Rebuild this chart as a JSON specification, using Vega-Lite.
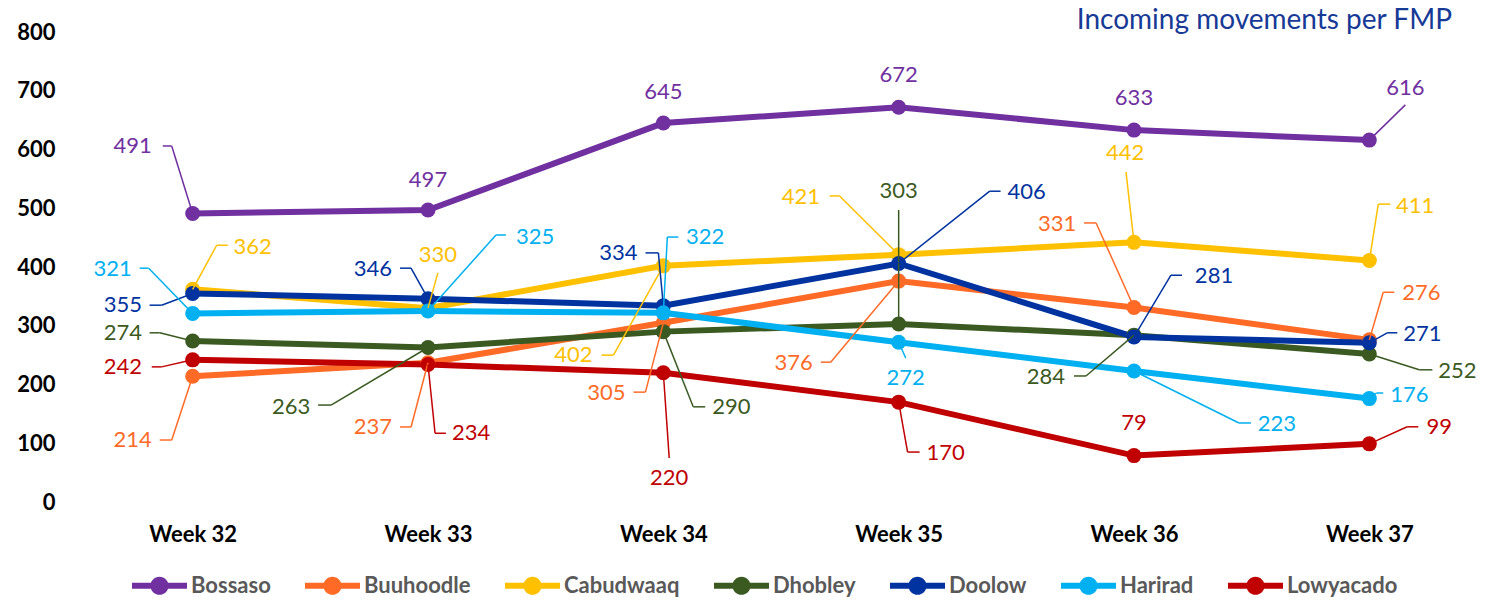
{
  "$schema": "https://vega.github.io/schema/vega-lite/v6.json",
  "autosize": {"type": "none"},
  "width": 1412,
  "height": 470,
  "padding": {"left": 75, "top": 32, "right": 0, "bottom": 103},
  "background": "white",
  "title": {"text": "Incoming movements per FMP", "anchor": "end", "dx": -35, "font": "Lato", "fontSize": 28, "fontWeight": "normal", "color": "#163a96", "baseline": "alphabetic", "offset": -36},
  "config": {"view": {"stroke": null}, "font": "Lato"},
  "data": {"values": [
    {"series": "Bossaso", "week": 32, "value": 491, "lx": 31.745, "ly": 606, "sx": 31.873, "sy": 606, "ex": 31.911, "ey": 606},
    {"series": "Bossaso", "week": 33, "value": 497, "lx": 33.0, "ly": 548},
    {"series": "Bossaso", "week": 34, "value": 645, "lx": 34.0, "ly": 698},
    {"series": "Bossaso", "week": 35, "value": 672, "lx": 35.0, "ly": 727},
    {"series": "Bossaso", "week": 36, "value": 633, "lx": 36.0, "ly": 688},
    {"series": "Bossaso", "week": 37, "value": 616, "lx": 37.153, "ly": 705, "sx": 37.153, "sy": 676, "ex": 37.153, "ey": 676},
    {"series": "Buuhoodle", "week": 32, "value": 214, "lx": 31.745, "ly": 105.5, "sx": 31.86, "sy": 105.5, "ex": 31.911, "ey": 105.5},
    {"series": "Buuhoodle", "week": 33, "value": 237, "lx": 32.766, "ly": 127.7, "sx": 32.881, "sy": 127.7, "ex": 32.928, "ey": 127.7},
    {"series": "Buuhoodle", "week": 34, "value": 305, "lx": 33.758, "ly": 185.5, "sx": 33.873, "sy": 187, "ex": 33.924, "ey": 187},
    {"series": "Buuhoodle", "week": 35, "value": 376, "lx": 34.554, "ly": 236.6, "sx": 34.669, "sy": 238, "ex": 34.711, "ey": 238},
    {"series": "Buuhoodle", "week": 36, "value": 331, "lx": 35.673, "ly": 473, "sx": 35.788, "sy": 475, "ex": 35.839, "ey": 475},
    {"series": "Buuhoodle", "week": 37, "value": 276, "lx": 37.221, "ly": 356, "sx": 37.106, "sy": 357, "ex": 37.059, "ey": 357},
    {"series": "Cabudwaaq", "week": 32, "value": 362, "lx": 32.255, "ly": 434, "sx": 32.149, "sy": 437, "ex": 32.102, "ey": 437},
    {"series": "Cabudwaaq", "week": 33, "value": 330, "lx": 33.042, "ly": 420, "sx": 33.042, "sy": 390, "ex": 33.042, "ey": 390},
    {"series": "Cabudwaaq", "week": 34, "value": 402, "lx": 33.618, "ly": 250, "sx": 33.737, "sy": 250, "ex": 33.788, "ey": 250},
    {"series": "Cabudwaaq", "week": 35, "value": 421, "lx": 34.584, "ly": 519, "sx": 34.707, "sy": 521, "ex": 34.749, "ey": 521},
    {"series": "Cabudwaaq", "week": 36, "value": 442, "lx": 35.962, "ly": 594, "sx": 35.966, "sy": 562, "ex": 35.966, "ey": 562},
    {"series": "Cabudwaaq", "week": 37, "value": 411, "lx": 37.195, "ly": 504, "sx": 37.089, "sy": 507, "ex": 37.038, "ey": 507},
    {"series": "Dhobley", "week": 32, "value": 274, "lx": 31.703, "ly": 288, "sx": 31.817, "sy": 288, "ex": 31.86, "ey": 288},
    {"series": "Dhobley", "week": 33, "value": 263, "lx": 32.418, "ly": 162, "sx": 32.533, "sy": 165, "ex": 32.588, "ey": 165},
    {"series": "Dhobley", "week": 34, "value": 290, "lx": 34.289, "ly": 162, "sx": 34.178, "sy": 162, "ex": 34.127, "ey": 162},
    {"series": "Dhobley", "week": 35, "value": 303, "lx": 35.0, "ly": 529, "sx": 35.0, "sy": 497, "ex": 35.0, "ey": 497},
    {"series": "Dhobley", "week": 36, "value": 284, "lx": 35.626, "ly": 213, "sx": 35.745, "sy": 214.5, "ex": 35.796, "ey": 214.5},
    {"series": "Dhobley", "week": 37, "value": 252, "lx": 37.374, "ly": 223, "sx": 37.268, "sy": 225, "ex": 37.212, "ey": 225},
    {"series": "Doolow", "week": 32, "value": 355, "lx": 31.703, "ly": 335, "sx": 31.817, "sy": 335, "ex": 31.868, "ey": 335},
    {"series": "Doolow", "week": 33, "value": 346, "lx": 32.766, "ly": 397, "sx": 32.881, "sy": 398, "ex": 32.928, "ey": 398},
    {"series": "Doolow", "week": 34, "value": 334, "lx": 33.809, "ly": 424, "sx": 33.924, "sy": 424, "ex": 33.979, "ey": 424},
    {"series": "Doolow", "week": 35, "value": 406, "lx": 35.544, "ly": 528, "sx": 35.433, "sy": 529, "ex": 35.387, "ey": 529},
    {"series": "Doolow", "week": 36, "value": 281, "lx": 36.34, "ly": 385, "sx": 36.204, "sy": 386, "ex": 36.157, "ey": 386},
    {"series": "Doolow", "week": 37, "value": 271, "lx": 37.225, "ly": 286, "sx": 37.119, "sy": 288, "ex": 37.076, "ey": 288},
    {"series": "Harirad", "week": 32, "value": 321, "lx": 31.66, "ly": 397, "sx": 31.775, "sy": 398, "ex": 31.813, "ey": 398},
    {"series": "Harirad", "week": 33, "value": 325, "lx": 33.455, "ly": 451, "sx": 33.331, "sy": 454.5, "ex": 33.289, "ey": 454.5},
    {"series": "Harirad", "week": 34, "value": 322, "lx": 34.178, "ly": 451, "sx": 34.064, "sy": 451, "ex": 34.017, "ey": 451},
    {"series": "Harirad", "week": 35, "value": 272, "lx": 35.03, "ly": 211, "sx": 35.03, "sy": 245, "ex": 35.03, "ey": 245},
    {"series": "Harirad", "week": 36, "value": 223, "lx": 36.607, "ly": 133, "sx": 36.497, "sy": 134.5, "ex": 36.446, "ey": 134.5},
    {"series": "Harirad", "week": 37, "value": 176, "lx": 37.17, "ly": 182, "sx": 37.059, "sy": 185.5, "ex": 37.03, "ey": 185.5},
    {"series": "Lowyacado", "week": 32, "value": 242, "lx": 31.703, "ly": 230, "sx": 31.826, "sy": 230, "ex": 31.868, "ey": 230},
    {"series": "Lowyacado", "week": 33, "value": 234, "lx": 33.183, "ly": 117, "sx": 33.076, "sy": 117, "ex": 33.03, "ey": 117},
    {"series": "Lowyacado", "week": 34, "value": 220, "lx": 34.025, "ly": 41, "sx": 34.025, "sy": 75, "ex": 34.025, "ey": 75},
    {"series": "Lowyacado", "week": 35, "value": 170, "lx": 35.2, "ly": 83, "sx": 35.089, "sy": 85, "ex": 35.038, "ey": 85},
    {"series": "Lowyacado", "week": 36, "value": 79, "lx": 36.0, "ly": 134.5},
    {"series": "Lowyacado", "week": 37, "value": 99, "lx": 37.297, "ly": 128, "sx": 37.208, "sy": 128, "ex": 37.161, "ey": 128}
  ]},
  "encoding": {
    "color": {
      "field": "series", "type": "nominal",
      "scale": {"domain": ["Bossaso", "Buuhoodle", "Cabudwaaq", "Dhobley", "Doolow", "Harirad", "Lowyacado"],
                "range": ["#7030A0", "#FF6B27", "#FFC000", "#3B5A22", "#0033A0", "#00B0F0", "#C00000"]},
      "legend": {
        "title": null, "orient": "none", "direction": "horizontal", "legendX": 57, "legendY": 526,
        "symbolType": "M-1,-0.11 H1 V0.11 H-1 Z M0.33,0 A0.33,0.33 0 1,1 -0.33,0 A0.33,0.33 0 1,1 0.33,0 Z",
        "symbolSize": 3025, "labelOffset": 4, "columnPadding": 34,
        "labelFont": "Lato", "labelFontSize": 22, "labelFontWeight": "bold", "labelColor": "#595959",
        "encode": {"symbols": {"update": {"fill": {"scale": "color", "field": "value"}, "stroke": {"value": "transparent"}, "strokeWidth": {"value": 0}, "opacity": {"value": 1}}}}
      }
    }
  },
  "layer": [
    {
      "mark": {"type": "line", "strokeWidth": 6},
      "encoding": {
        "x": {"field": "week", "type": "quantitative", "scale": {"domain": [31.5, 37.5], "nice": false, "zero": false},
              "axis": {"values": [32, 33, 34, 35, 36, 37], "labelExpr": "'Week ' + datum.value", "title": null, "grid": false, "domain": false, "ticks": false,
                       "labelFont": "Lato", "labelFontSize": 22, "labelFontWeight": "bold", "labelColor": "#000000", "labelPadding": 22, "labelFlush": false}},
        "y": {"field": "value", "type": "quantitative", "scale": {"domain": [0, 800], "nice": false},
              "axis": {"values": [0, 100, 200, 300, 400, 500, 600, 700, 800], "title": null, "grid": false, "domain": false, "ticks": false,
                       "labelFont": "Lato", "labelFontSize": 22, "labelFontWeight": "bold", "labelColor": "#000000", "labelPadding": 20}}
      }
    },
    {
      "mark": {"type": "point", "filled": true, "size": 225, "opacity": 1, "shape": "circle"},
      "encoding": {
        "x": {"field": "week", "type": "quantitative"},
        "y": {"field": "value", "type": "quantitative"}
      }
    },
    {
      "transform": [{"filter": "isValid(datum.sx)"}],
      "mark": {"type": "rule", "strokeWidth": 1.5},
      "encoding": {
        "x": {"field": "sx", "type": "quantitative"},
        "y": {"field": "sy", "type": "quantitative"},
        "x2": {"field": "ex"},
        "y2": {"field": "ey"}
      }
    },
    {
      "transform": [{"filter": "isValid(datum.sx)"}],
      "mark": {"type": "rule", "strokeWidth": 1.5},
      "encoding": {
        "x": {"field": "ex", "type": "quantitative"},
        "y": {"field": "ey", "type": "quantitative"},
        "x2": {"field": "week"},
        "y2": {"field": "value"}
      }
    },
    {
      "mark": {"type": "text", "font": "Lato", "fontSize": 22, "align": "center", "baseline": "middle"},
      "encoding": {
        "x": {"field": "lx", "type": "quantitative"},
        "y": {"field": "ly", "type": "quantitative"},
        "text": {"field": "value", "type": "quantitative"}
      }
    }
  ]
}
